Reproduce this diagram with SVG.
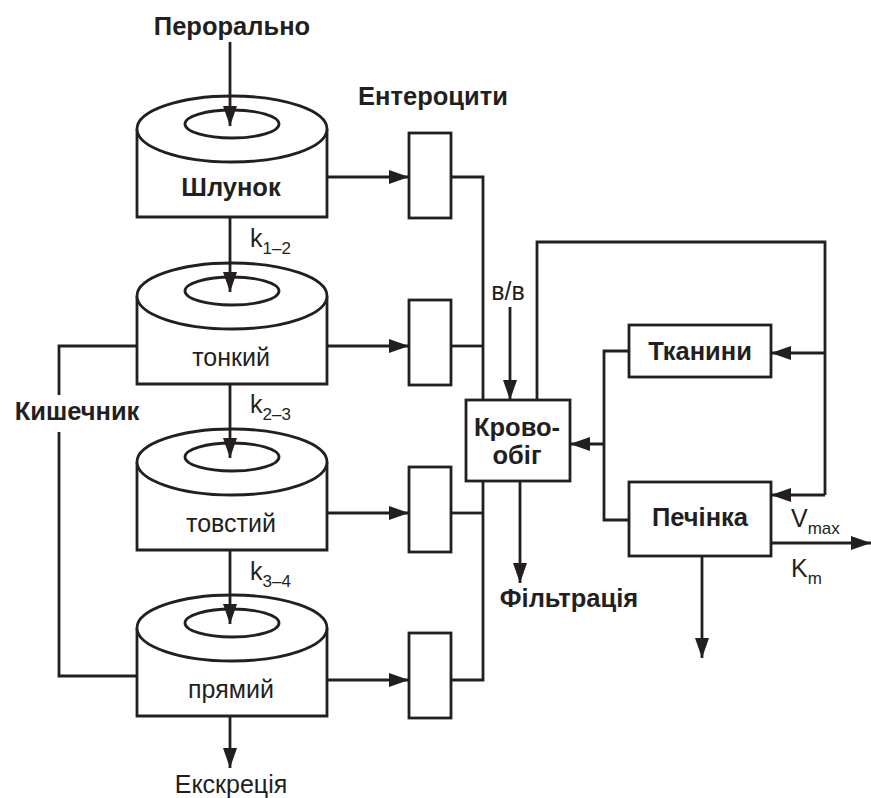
<svg xmlns="http://www.w3.org/2000/svg" width="871" height="798" viewBox="0 0 871 798">
<style>
.s{fill:none;stroke:#231f20;stroke-width:2.8}
.w{fill:#fff;stroke:#231f20;stroke-width:2.8}
.b{font-family:"Liberation Sans",Arial,sans-serif;font-weight:bold;font-size:25.5px;fill:#231f20;text-anchor:middle}
.r{font-family:"Liberation Sans",Arial,sans-serif;font-size:25px;fill:#231f20;text-anchor:middle}
.k{font-family:"Liberation Sans",Arial,sans-serif;font-size:25px;fill:#231f20}
.sub{font-size:17px}
</style>
<defs>
<marker id="ah" markerUnits="userSpaceOnUse" markerWidth="20" markerHeight="14" refX="20" refY="7" orient="auto">
<path d="M0,0 L20,7 L0,14 z" fill="#231f20"/>
</marker>
</defs>
<rect width="871" height="798" fill="#fff"/>

<g id="stomach">
<path class="w" d="M137,129 V217 H327 V129"/>
<ellipse class="w" cx="232" cy="129" rx="95" ry="33"/>
<ellipse class="s" cx="232" cy="124" rx="47" ry="14"/>
<text class="b" x="231" y="196">Шлунок</text>
</g>
<g id="small-intestine">
<path class="w" d="M137,296 V384 H327 V296"/>
<ellipse class="w" cx="232" cy="296" rx="95" ry="33"/>
<ellipse class="s" cx="232" cy="291" rx="47" ry="14"/>
<text class="r" x="231" y="366">тонкий</text>
</g>
<g id="large-intestine">
<path class="w" d="M137,462 V550 H327 V462"/>
<ellipse class="w" cx="232" cy="462" rx="95" ry="33"/>
<ellipse class="s" cx="232" cy="457" rx="47" ry="14"/>
<text class="r" x="231" y="532">товстий</text>
</g>
<g id="rectum">
<path class="w" d="M137,628 V716 H327 V628"/>
<ellipse class="w" cx="232" cy="628" rx="95" ry="33"/>
<ellipse class="s" cx="232" cy="623" rx="47" ry="14"/>
<text class="r" x="231" y="698">прямий</text>
</g>

<g id="entero1"><rect class="w" x="409" y="133" width="42" height="85"/></g>
<g id="entero2"><rect class="w" x="409" y="300" width="42" height="85"/></g>
<g id="entero3"><rect class="w" x="409" y="467" width="42" height="85"/></g>
<g id="entero4"><rect class="w" x="409" y="633" width="42" height="85"/></g>

<g id="circulation">
<rect class="w" x="466" y="400" width="104" height="81"/>
<text class="b" x="517" y="436">Крово-</text>
<text class="b" x="517" y="464">обіг</text>
</g>
<g id="tissues">
<rect class="w" x="629" y="325" width="142" height="52"/>
<text class="b" x="700" y="360">Тканини</text>
</g>
<g id="liver">
<rect class="w" x="629" y="482" width="142" height="74"/>
<text class="b" x="700" y="526">Печінка</text>
</g>

<g id="connectors">
<path class="s" d="M230,42 V126" marker-end="url(#ah)"/>
<path class="s" d="M230,217 V292" marker-end="url(#ah)"/>
<path class="s" d="M230,384 V458" marker-end="url(#ah)"/>
<path class="s" d="M230,550 V624" marker-end="url(#ah)"/>
<path class="s" d="M230,716 V768" marker-end="url(#ah)"/>
<path class="s" d="M327,177 H409" marker-end="url(#ah)"/>
<path class="s" d="M327,346 H409" marker-end="url(#ah)"/>
<path class="s" d="M327,513 H409" marker-end="url(#ah)"/>
<path class="s" d="M327,680 H409" marker-end="url(#ah)"/>
<path class="s" d="M451,177 H483 V400"/>
<path class="s" d="M451,346 H483"/>
<path class="s" d="M451,513 H483"/>
<path class="s" d="M451,680 H483 V481"/>
<path class="s" d="M137,346 H59 V395 M59,432 V676 H137"/>
<path class="s" d="M510,307 V400" marker-end="url(#ah)"/>
<path class="s" d="M537,400 V242 H825 V495"/>
<path class="s" d="M825,353 H771" marker-end="url(#ah)"/>
<path class="s" d="M825,495 H771" marker-end="url(#ah)"/>
<path class="s" d="M629,351 H604 V520 H629"/>
<path class="s" d="M604,444 H570" marker-end="url(#ah)"/>
<path class="s" d="M520,481 V583" marker-end="url(#ah)"/>
<path class="s" d="M771,543 H871" marker-end="url(#ah)"/>
<path class="s" d="M702,556 V658" marker-end="url(#ah)"/>
</g>

<g id="labels">
<text class="b" x="232" y="35">Перорально</text>
<text class="b" x="433" y="105">Ентероцити</text>
<text class="b" x="77" y="420">Кишечник</text>
<text class="b" x="569" y="607">Фільтрація</text>
<text class="r" x="231" y="793">Екскреція</text>
<text class="r" x="508" y="300">в/в</text>
<text class="k" x="250" y="247">k<tspan class="sub" dy="7">1–2</tspan></text>
<text class="k" x="250" y="413">k<tspan class="sub" dy="7">2–3</tspan></text>
<text class="k" x="250" y="580">k<tspan class="sub" dy="7">3–4</tspan></text>
<text class="k" x="791" y="527">V<tspan class="sub" dy="7">max</tspan></text>
<text class="k" x="791" y="577">K<tspan class="sub" dy="7">m</tspan></text>
</g>
</svg>
